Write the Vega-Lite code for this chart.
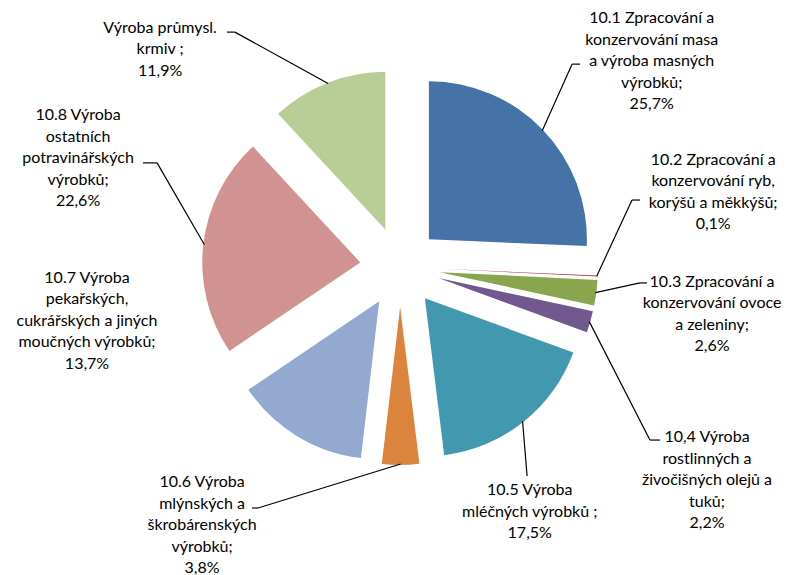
{
  "$schema": "https://vega.github.io/schema/vega-lite/v6.json",
  "width": 784,
  "height": 534,
  "autosize": {"type": "none"},
  "padding": {"left": 8, "top": 0, "right": 0, "bottom": 41},
  "background": "white",
  "config": {"view": {"stroke": null}},
  "data": {
    "values": [
      {"i": 0, "code": "10.1", "v": 25.7, "label": ["10.1 Zpracování a", "konzervování masa", "a výroba masných", "výrobků;", "25,7%"]},
      {"i": 1, "code": "10.2", "v": 0.1, "label": ["10.2 Zpracování a", "konzervování ryb,", "korýšů a měkkýšů;", "0,1%"]},
      {"i": 2, "code": "10.3", "v": 2.6, "label": ["10.3 Zpracování a", "konzervování ovoce", "a zeleniny;", "2,6%"]},
      {"i": 3, "code": "10.4", "v": 2.2, "label": ["10,4 Výroba", "rostlinných a", "živočišných olejů a", "tuků;", "2,2%"]},
      {"i": 4, "code": "10.5", "v": 17.5, "label": ["10.5 Výroba", "mléčných výrobků ;", "17,5%"]},
      {"i": 5, "code": "10.6", "v": 3.8, "label": ["10.6 Výroba", "mlýnských a", "škrobárenských", "výrobků;", "3,8%"]},
      {"i": 6, "code": "10.7", "v": 13.7, "label": ["10.7 Výroba", "pekařských,", "cukrářských a jiných", "moučných výrobků;", "13,7%"]},
      {"i": 7, "code": "10.8", "v": 22.6, "label": ["10.8 Výroba", "ostatních", "potravinářských", "výrobků;", "22,6%"]},
      {"i": 8, "code": "krmiva", "v": 11.9, "label": ["Výroba průmysl.", "krmiv ;", "11,9%"]}
    ]
  },
  "layer": [
    {
      "mark": {
        "type": "arc",
        "radius": 158,
        "x": {"expr": "width / 2 + 40 * sin((scale('theta', datum.v_start) + scale('theta', datum.v_end)) / 2)"},
        "y": {"expr": "height / 2 - 40 * cos((scale('theta', datum.v_start) + scale('theta', datum.v_end)) / 2)"}
      },
      "encoding": {
        "theta": {"field": "v", "type": "quantitative", "stack": true},
        "order": {"field": "i", "type": "quantitative"},
        "color": {
          "field": "code",
          "type": "nominal",
          "legend": null,
          "scale": {
            "domain": ["10.1", "10.2", "10.3", "10.4", "10.5", "10.6", "10.7", "10.8", "krmiva"],
            "range": ["#4572A7", "#AA4643", "#89A54E", "#71588F", "#4198AF", "#DB843D", "#93A9CF", "#D19392", "#B9CD96"]
          }
        }
      }
    },
    {
      "transform": [
        {"stack": "v", "groupby": [], "sort": [{"field": "i"}], "as": ["v_start", "v_end"]},
        {"filter": "datum.i != 6"}
      ],
      "mark": {"type": "rule", "color": "#000000", "strokeWidth": 1.2},
      "encoding": {
        "x": {"value": {"expr": "width / 2 + 197 * sin((scale('theta', datum.v_start) + scale('theta', datum.v_end)) / 2)"}},
        "y": {"value": {"expr": "height / 2 - 197 * cos((scale('theta', datum.v_start) + scale('theta', datum.v_end)) / 2)"}},
        "x2": {"value": {"expr": "width / 2 + [266,241.5,240.5,304,244.6,279.7,0,264.3,287.1][datum.i] * sin([40.3,73.9,93.8,124.7,148.7,210.5,0,293.2,324.9][datum.i] * PI / 180)"}},
        "y2": {"value": {"expr": "height / 2 - [266,241.5,240.5,304,244.6,279.7,0,264.3,287.1][datum.i] * cos([40.3,73.9,93.8,124.7,148.7,210.5,0,293.2,324.9][datum.i] * PI / 180)"}}
      }
    },
    {
      "transform": [
        {"filter": "datum.i != 6 && datum.i != 4"}
      ],
      "mark": {"type": "rule", "color": "#000000", "strokeWidth": 1.2},
      "encoding": {
        "x": {"value": {"expr": "width / 2 + [266,241.5,240.5,304,244.6,279.7,0,264.3,287.1][datum.i] * sin([40.3,73.9,93.8,124.7,148.7,210.5,0,293.2,324.9][datum.i] * PI / 180)"}},
        "y": {"value": {"expr": "height / 2 - [266,241.5,240.5,304,244.6,279.7,0,264.3,287.1][datum.i] * cos([40.3,73.9,93.8,124.7,148.7,210.5,0,293.2,324.9][datum.i] * PI / 180)"}},
        "x2": {"value": {"expr": "width / 2 + [266,241.5,240.5,304,244.6,279.7,0,264.3,287.1][datum.i] * sin([40.3,73.9,93.8,124.7,148.7,210.5,0,293.2,324.9][datum.i] * PI / 180) + [8,8,7,10,0,-6,0,-14,-8][datum.i]"}},
        "y2": {"value": {"expr": "height / 2 - [266,241.5,240.5,304,244.6,279.7,0,264.3,287.1][datum.i] * cos([40.3,73.9,93.8,124.7,148.7,210.5,0,293.2,324.9][datum.i] * PI / 180)"}}
      }
    },
    {
      "mark": {
        "type": "text",
        "radius": 325,
        "thetaOffset": {"expr": "[-0.9,-21.5,-4.75,12.9,8.3,42.8,56.7,18.7,-23.7][datum.i] * PI / 180"},
        "radiusOffset": {"expr": "[29,6,-12.6,26,-67,-32.7,-11.8,31,13.7][datum.i]"},
        "font": "Lato",
        "fontSize": 16,
        "lineHeight": 21.5,
        "align": "center",
        "baseline": "middle",
        "color": "#000000"
      },
      "encoding": {
        "theta": {"field": "v", "type": "quantitative", "stack": true},
        "order": {"field": "i", "type": "quantitative"},
        "text": {"field": "label", "type": "nominal"}
      }
    }
  ]
}
